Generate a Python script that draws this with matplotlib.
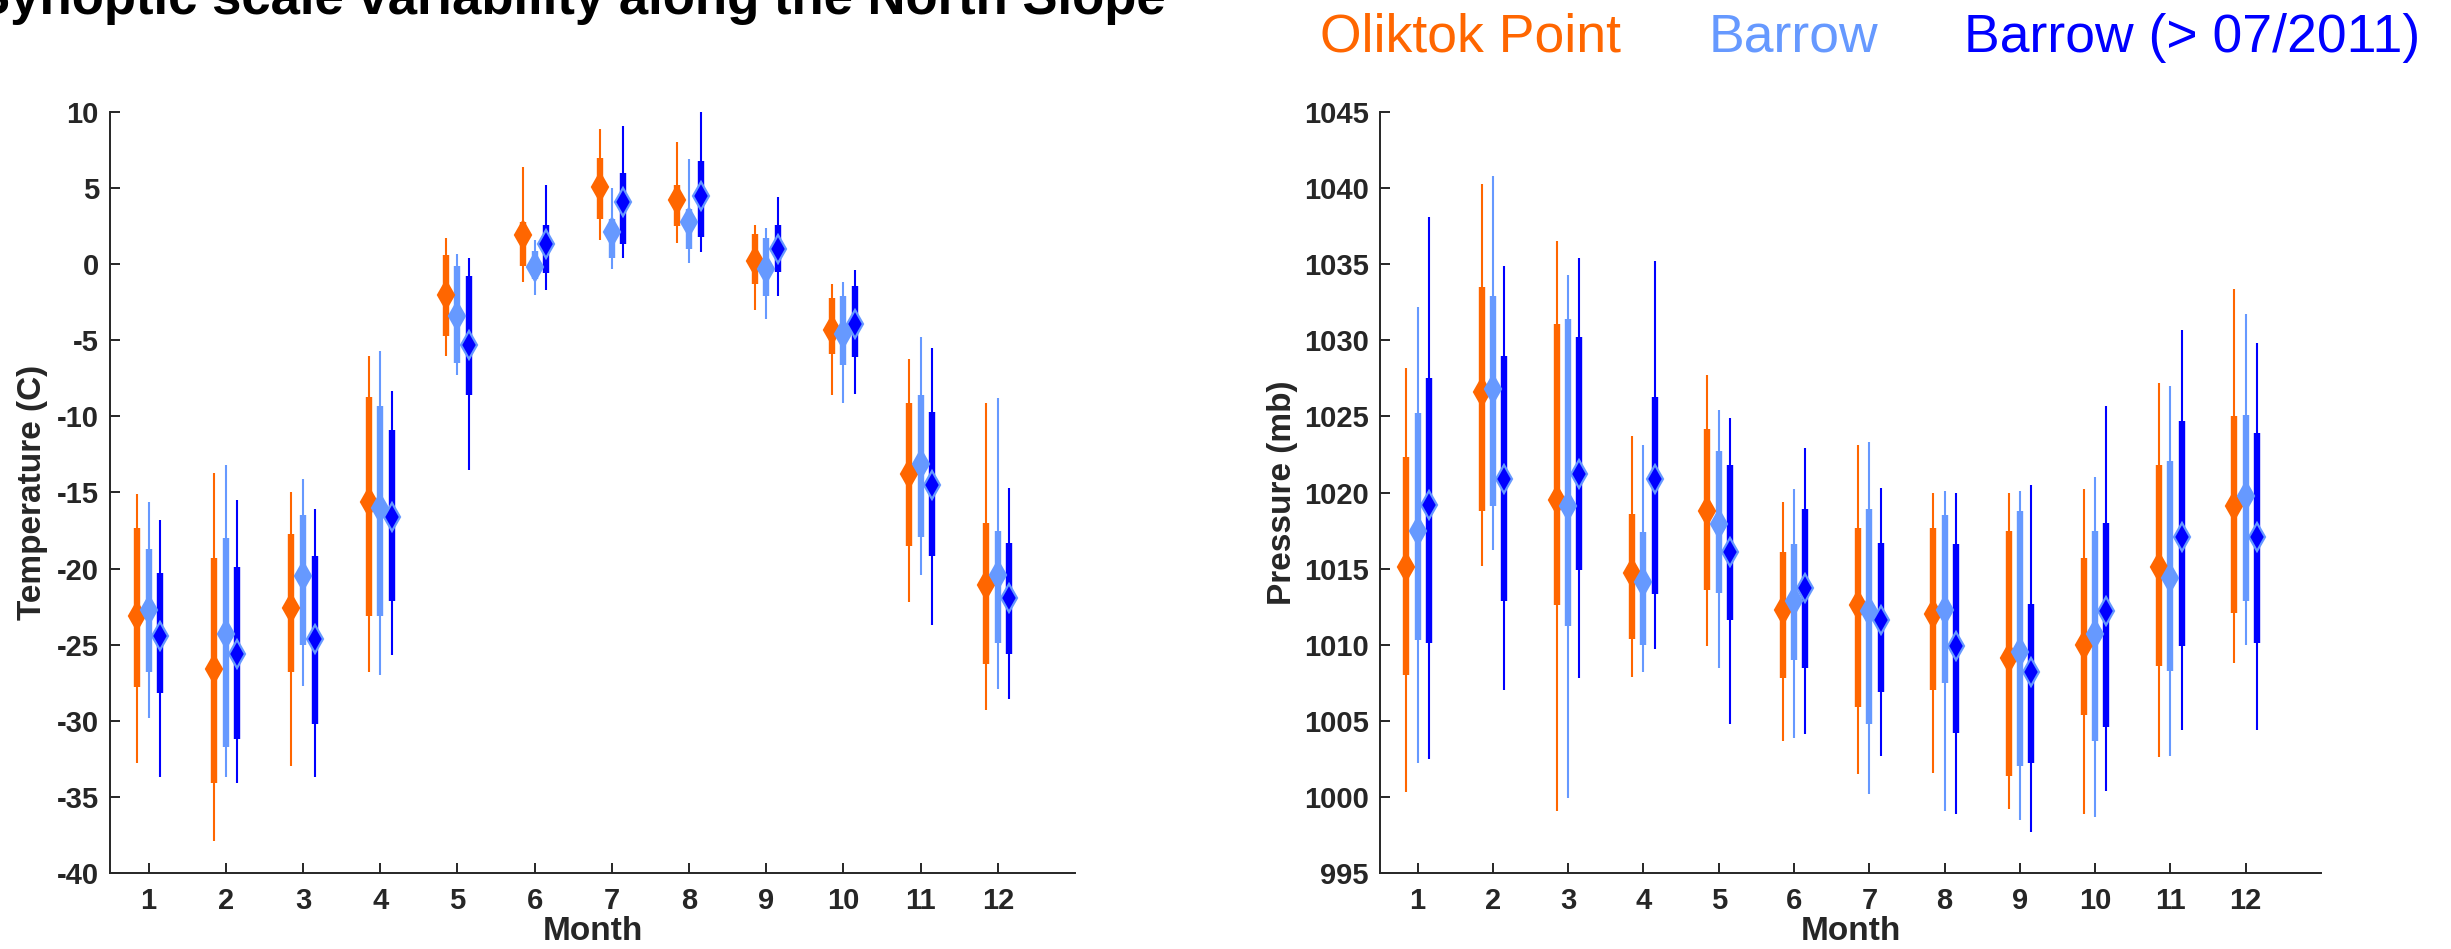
import matplotlib.pyplot as plt
import numpy as np

plt.rcParams['font.family'] = ['Liberation Sans', 'DejaVu Sans']
plt.rcParams['axes.unicode_minus'] = False

W, H, DPI = 2451, 949, 100
months = np.arange(1, 13)

# rows per month: whisker top, box top, centre, box bottom, whisker bottom
temp_oliktok = [
    [-15.1, -17.3, -23.1, -27.8, -32.8], [-13.7, -19.3, -26.6, -34.1, -37.9],
    [-15.0, -17.7, -22.6, -26.8, -33.0], [-6.0, -8.7, -15.6, -23.1, -26.8],
    [1.7, 0.6, -2.0, -4.7, -6.0], [6.4, 2.8, 1.9, -0.1, -1.2],
    [8.9, 7.0, 5.1, 3.0, 1.6], [8.0, 5.2, 4.2, 2.5, 1.4],
    [2.6, 2.0, 0.2, -1.3, -3.0], [-1.3, -2.2, -4.3, -5.9, -8.6],
    [-6.2, -9.1, -13.8, -18.5, -22.2], [-9.1, -17.0, -21.1, -26.3, -29.3],
]
temp_barrow = [
    [-15.6, -18.7, -22.7, -26.8, -29.8], [-13.2, -18.0, -24.3, -31.7, -33.7],
    [-14.1, -16.5, -20.5, -25.0, -27.7], [-5.7, -9.3, -16.0, -23.1, -27.0],
    [0.7, -0.1, -3.4, -6.5, -7.3], [1.6, 0.9, -0.2, -1.0, -2.0],
    [5.0, 3.0, 2.1, 0.4, -0.3], [6.9, 3.6, 2.8, 1.0, 0.1],
    [2.4, 1.7, -0.3, -2.1, -3.6], [-1.2, -2.1, -4.6, -6.6, -9.1],
    [-4.8, -8.6, -13.1, -17.9, -20.4], [-8.8, -17.5, -20.4, -24.9, -27.9],
]
temp_barrow_new = [
    [-16.8, -20.3, -24.4, -28.2, -33.7], [-15.5, -19.9, -25.6, -31.2, -34.1],
    [-16.1, -19.2, -24.6, -30.2, -33.7], [-8.3, -10.9, -16.6, -22.1, -25.7],
    [0.4, -0.8, -5.3, -8.6, -13.5], [5.2, 2.6, 1.3, -0.6, -1.7],
    [9.1, 6.0, 4.1, 1.3, 0.4], [10.0, 6.8, 4.5, 1.8, 0.8],
    [4.4, 2.6, 1.0, -0.5, -2.1], [-0.4, -1.4, -3.9, -6.1, -8.5],
    [-5.5, -9.7, -14.5, -19.2, -23.7], [-14.7, -18.3, -21.9, -25.6, -28.6],
]
pres_oliktok = [
    [1028.2, 1022.3, 1015.1, 1008.0, 1000.3], [1040.3, 1033.5, 1026.6, 1018.8, 1015.2],
    [1036.5, 1031.1, 1019.5, 1012.6, 999.1], [1023.7, 1018.6, 1014.7, 1010.4, 1007.9],
    [1027.7, 1024.2, 1018.8, 1013.6, 1009.9], [1019.4, 1016.1, 1012.3, 1007.8, 1003.7],
    [1023.1, 1017.7, 1012.6, 1005.9, 1001.5], [1020.0, 1017.7, 1012.0, 1007.0, 1001.6],
    [1020.0, 1017.5, 1009.1, 1001.4, 999.2], [1020.2, 1015.7, 1010.0, 1005.4, 998.9],
    [1027.2, 1021.8, 1015.1, 1008.6, 1002.6], [1033.4, 1025.0, 1019.1, 1012.1, 1008.8],
]
pres_barrow = [
    [1032.2, 1025.2, 1017.5, 1010.3, 1002.2], [1040.8, 1032.9, 1026.8, 1019.1, 1016.2],
    [1034.3, 1031.4, 1019.1, 1011.2, 999.9], [1023.1, 1017.4, 1014.1, 1010.0, 1008.2],
    [1025.4, 1022.7, 1017.9, 1013.4, 1008.5], [1020.2, 1016.6, 1012.9, 1009.0, 1003.9],
    [1023.3, 1018.9, 1012.2, 1004.8, 1000.2], [1020.1, 1018.5, 1012.3, 1007.5, 999.1],
    [1020.1, 1018.8, 1009.5, 1002.0, 998.5], [1021.0, 1017.5, 1010.7, 1003.7, 998.7],
    [1027.0, 1022.1, 1014.4, 1008.3, 1002.7], [1031.7, 1025.1, 1019.8, 1012.9, 1010.0],
]
pres_barrow_new = [
    [1038.1, 1027.5, 1019.2, 1010.1, 1002.5], [1034.9, 1029.0, 1020.9, 1012.9, 1007.0],
    [1035.4, 1030.2, 1021.2, 1014.9, 1007.8], [1035.2, 1026.3, 1020.9, 1013.3, 1009.7],
    [1024.9, 1021.8, 1016.1, 1011.6, 1004.8], [1022.9, 1018.9, 1013.7, 1008.5, 1004.1],
    [1020.3, 1016.7, 1011.6, 1006.9, 1002.7], [1020.0, 1016.6, 1009.9, 1004.2, 998.9],
    [1020.5, 1012.7, 1008.2, 1002.2, 997.7], [1025.7, 1018.0, 1012.2, 1004.6, 1000.4],
    [1030.7, 1024.7, 1017.1, 1009.9, 1004.4], [1029.8, 1023.9, 1017.1, 1010.1, 1004.4],
]

site_names = ['Oliktok Point', 'Barrow', 'Barrow (> 07/2011)']
ORANGE, LIGHT, BLUE = '#FF6600', '#6699FF', '#0000FF'
AX_COL = '#262626'

series_style = [  # offset, line colour, marker face, marker edge
    (-0.15, ORANGE, ORANGE, ORANGE),
    (0.0, LIGHT, LIGHT, LIGHT),
    (0.15, BLUE, BLUE, LIGHT),
]


def draw_panel(ax, datasets, ylim, yticks, ylabel, ylabelpad):
    for data, (off, col, mfc, mec) in zip(datasets, series_style):
        d = np.array(data)
        x = months + off
        ax.vlines(x, d[:, 4], d[:, 0], colors=col, linewidth=1.5, capstyle='butt', zorder=2)
        ax.vlines(x, d[:, 3], d[:, 1], colors=col, linewidth=4.6, capstyle='butt', zorder=3)
        ax.plot(x, d[:, 2], linestyle='none', marker='d', markersize=14,
                markerfacecolor=mfc, markeredgecolor=mec, markeredgewidth=1.6, zorder=4)
    ax.set_xlim(0.5, 13)
    ax.set_ylim(*ylim)
    ax.set_xticks(months)
    ax.set_yticks(yticks)
    for side in ('top', 'right'):
        ax.spines[side].set_visible(False)
    for side in ('left', 'bottom'):
        ax.spines[side].set_color(AX_COL)
        ax.spines[side].set_linewidth(1.4)
    ax.tick_params(direction='in', length=7, width=1.4, color=AX_COL,
                   labelcolor=AX_COL, labelsize=21)
    ax.tick_params(axis='x', pad=10)
    ax.tick_params(axis='y', pad=8)
    for lab in ax.get_xticklabels() + ax.get_yticklabels():
        lab.set_fontweight('bold')
    ax.set_xlabel('Month', fontsize=24, fontweight='bold', color=AX_COL, labelpad=1)
    ax.set_ylabel(ylabel, fontsize=24, fontweight='bold', color=AX_COL, labelpad=ylabelpad)


fig = plt.figure(figsize=(W / DPI, H / DPI), dpi=DPI)
ax1 = fig.add_axes([110 / W, 1 - 873 / H, 965 / W, 761 / H])
ax2 = fig.add_axes([1380 / W, 1 - 873 / H, 941 / W, 761 / H])

draw_panel(ax1, [temp_oliktok, temp_barrow, temp_barrow_new],
           (-40, 10), np.arange(-40, 11, 5), 'Temperature (C)', 6)
draw_panel(ax2, [pres_oliktok, pres_barrow, pres_barrow_new],
           (995, 1045), np.arange(995, 1046, 5), 'Pressure (mb)', 4)

fig.text(1166 / W, 1 - 14 / H, 'Synoptic scale variability along the North Slope',
         ha='right', va='baseline', fontsize=38, fontweight='bold', color='black')

legend_x = [1320, 1709, 1964]
for name, xpix, col in zip(site_names, legend_x, [ORANGE, LIGHT, BLUE]):
    fig.text(xpix / W, 1 - 52 / H, name, ha='left', va='baseline',
             fontsize=38.5, color=col)

fig.savefig('out.png', dpi=DPI, facecolor='white')
plt.close()
